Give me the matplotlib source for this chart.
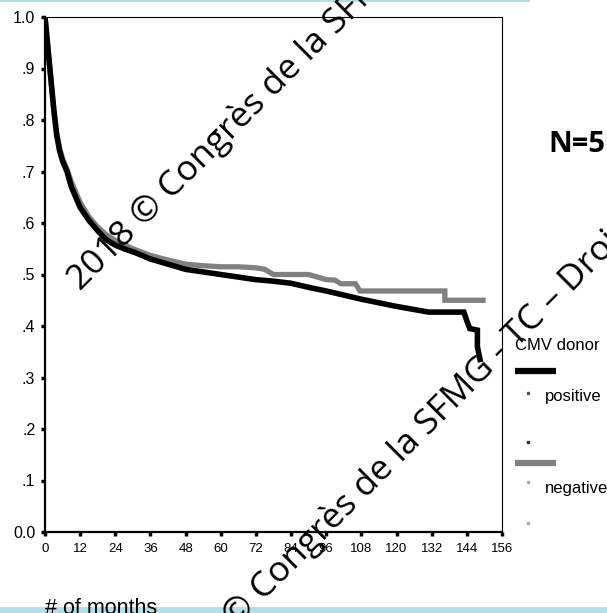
import matplotlib.pyplot as plt
from matplotlib.lines import Line2D
from matplotlib.patches import Rectangle

# Values
months_pos = [0, 0.5, 1, 2, 3, 4, 5, 6, 7.5, 9, 10.5, 12, 15, 18, 21, 24, 27, 31, 36, 42,
              48, 54, 60, 66, 72, 78, 84, 90, 96, 102, 108, 114, 120, 126, 131, 143,
              144, 145, 147.6, 147.6, 148.5]
surv_pos = [1.0, 0.97, 0.94, 0.88, 0.82, 0.77, 0.74, 0.72, 0.70, 0.67, 0.65, 0.63, 0.605,
            0.585, 0.567, 0.557, 0.55, 0.542, 0.53, 0.52, 0.51, 0.505, 0.50, 0.495, 0.49,
            0.487, 0.483, 0.475, 0.468, 0.46, 0.452, 0.445, 0.438, 0.432, 0.427, 0.427,
            0.41, 0.395, 0.392, 0.36, 0.335]

months_neg = [0, 0.5, 1, 2, 3, 4, 5, 6, 7.5, 9, 10.5, 12, 15, 18, 21, 24, 30, 36, 42, 48,
              54, 60, 66, 72, 75, 78, 84, 90, 96, 99, 101, 106, 107.5, 136.5, 136.5, 149.5]
surv_neg = [1.0, 0.97, 0.94, 0.88, 0.82, 0.775, 0.745, 0.725, 0.705, 0.68, 0.66, 0.64,
            0.612, 0.592, 0.577, 0.566, 0.55, 0.537, 0.528, 0.52, 0.517, 0.515, 0.515,
            0.513, 0.51, 0.5, 0.5, 0.5, 0.49, 0.489, 0.482, 0.482, 0.468, 0.468, 0.45, 0.45]

x_ticks = list(range(0, 157, 12))
y_ticks = [0, 0.1, 0.2, 0.3, 0.4, 0.5, 0.6, 0.7, 0.8, 0.9, 1.0]
y_labels = ["0.0", ".1", ".2", ".3", ".4", ".5", ".6", ".7", ".8", ".9", "1.0"]
legend_title = "CMV donor"
legend_labels = ["positive", "negative"]
watermark = "2018 © Congrès de la SFMG - TC – Droits réservés"

plt.rcParams["font.family"] = ["Liberation Sans", "DejaVu Sans"]

W, H = 607, 613
fig = plt.figure(figsize=(6.07, 6.13), dpi=100)
ax = fig.add_axes([45 / W, 1 - 532 / H, 457 / W, 515 / H])

ax.plot(months_neg, surv_neg, color="#808080", lw=3.8, solid_joinstyle="miter")
ax.plot(months_pos, surv_pos, color="black", lw=4.0, solid_joinstyle="miter")

ax.set_xlim(0, 156)
ax.set_ylim(0, 1.0)
ax.set_xticks(x_ticks)
ax.set_yticks(y_ticks)
ax.set_yticklabels(y_labels)
ax.tick_params(axis="x", labelsize=9.5, length=3, width=2.5, direction="out", pad=5)
ax.tick_params(axis="y", labelsize=11.5, length=3, width=2.5, direction="out", pad=4)
for s in ["left", "bottom"]:
    ax.spines[s].set_linewidth(1.6)
for s in ["top", "right"]:
    ax.spines[s].set_linewidth(0.8)

# Legend, drawn by hand like the original export
fig.text(515 / W, 1 - 345 / H, legend_title, fontsize=12, va="center", ha="left")
colors = ["black", "#808080"]
ys = [371, 463]
for lab, c, y in zip(legend_labels, colors, ys):
    fig.add_artist(Line2D([515 / W, 556 / W], [1 - y / H] * 2, color=c, lw=4.5,
                          solid_capstyle="butt"))
    fig.text(545 / W, 1 - (y + 25) / H, lab, fontsize=12, va="center", ha="left")
for y, c in [(393, "#555555"), (442, "#333333"), (482, "#aaaaaa"), (523, "#aaaaaa")]:
    fig.add_artist(Line2D([528 / W], [1 - y / H], marker="s", ms=1.5, color=c, lw=0))

fig.text(45 / W, 1 - 614 / H, "# of months", fontsize=15.5, va="baseline", ha="left")
fig.text(548 / W, 1 - 144 / H, "N=5", fontsize=21, fontweight="bold",
         family="Open Sans", va="center", ha="left")

# Watermarks
for x0, y0 in [(80, 291), (172, 692)]:
    fig.text(x0 / W, 1 - y0 / H, watermark, fontsize=25.5, rotation=45,
             rotation_mode="anchor", ha="left", va="baseline", family="Open Sans",
             color="black")

# Slide border strips
fig.add_artist(Rectangle((0, 1 - 2 / H), 530 / W, 2 / H, color="#b4dfe8", lw=0))
fig.add_artist(Rectangle((0, 0), 1, 6 / H, color="#b4dfe8", lw=0))

fig.savefig("out.png", dpi=100)
